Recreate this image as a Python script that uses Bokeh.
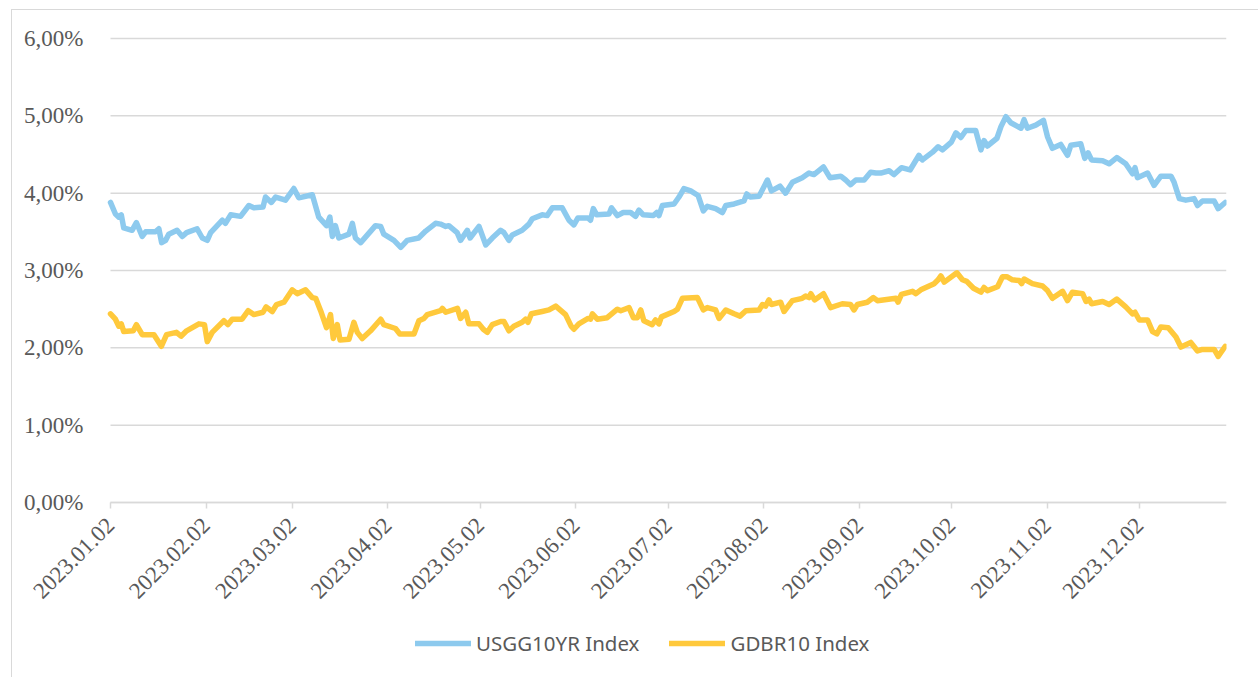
from datetime import datetime, timedelta
from bokeh.plotting import figure
from bokeh.models import (FixedTicker, DatetimeTickFormatter, Range1d, Legend, LegendItem)
from bokeh.embed import file_html
from bokeh.resources import INLINE
import math

BASE = datetime(2023, 1, 2)

us_days = [0, 1.6, 2.7, 3.5, 4.3, 7, 8.4, 10.3, 11.4, 14.6, 15.7, 16.6, 17.9, 18.9, 21.6, 23.3, 24.7,
           28.1, 29.8, 31.4, 32.5, 36.3, 37.3, 39, 42.2, 44.9, 46.5, 49.5, 50.3, 52.2, 53.6, 56.8, 59.5,
           61.1, 65.5, 67.6, 70.1, 71.2, 72, 73, 74.1, 77.4, 78.5, 79.5, 81.2, 86, 87.7, 88.7, 92, 94.2,
           96.3, 100, 102.3, 105.5, 107.1, 108.8, 109.8, 112.5, 113.6, 115.8, 116.7, 119.6, 121.8, 123.9,
           126.6, 127.7, 129.3, 130.4, 133.6, 135.8, 136.9, 140.1, 141.7, 143.4, 146.6, 148.8, 150.4,
           151.7, 155, 155.8, 156.7, 157.8, 161.8, 162.6, 164.5, 166.4, 168.8, 170.4, 171.5, 172.9,
           176.2, 177.3, 178, 179.1, 182.9, 184.5, 186.1, 188.3, 190.7, 192.4, 193.7, 196.4, 198.6,
           199.7, 202.4, 205.6, 206.5, 207.6, 210.5, 213.2, 214.5, 217.3, 219.1, 221.3, 224.5, 226.7,
           228.3, 231.4, 233.5, 237, 238.6, 240.2, 241.9, 244.6, 246.7, 248.4, 250, 252.7, 254.3, 256.7,
           259.5, 262.4, 263.5, 266.8, 268.6, 270, 272.9, 274.4, 276, 277.6, 280.8, 282.5, 283.5, 284.6,
           287.7, 289, 290.6, 292.2, 295.5, 296.5, 297.6, 300.3, 302.8, 304.1, 305.7, 308.4, 310.6,
           311.7, 314.9, 316.2, 317.3, 318.4, 322, 324.1, 326.6, 329.5, 331.7, 332.5, 333.3, 336.6,
           338.7, 340.9, 344.2, 345.2, 346.9, 349, 351.7, 352.8, 354.4, 358.2, 359.5, 361.8]
us_vals = [3.88, 3.73, 3.69, 3.72, 3.55, 3.52, 3.62, 3.44, 3.50, 3.50, 3.54, 3.36, 3.39, 3.47, 3.52, 3.44, 3.49,
           3.54, 3.42, 3.39, 3.49, 3.65, 3.61, 3.72, 3.70, 3.84, 3.81, 3.82, 3.95, 3.88, 3.95, 3.91, 4.06,
           3.94, 3.98, 3.69, 3.58, 3.69, 3.44, 3.58, 3.42, 3.47, 3.61, 3.42, 3.36, 3.58, 3.57, 3.47, 3.39, 3.30,
           3.39, 3.42, 3.51, 3.61, 3.60, 3.57, 3.58, 3.49, 3.39, 3.52, 3.42, 3.57, 3.33, 3.42,
           3.52, 3.49, 3.39, 3.46, 3.52, 3.60, 3.67, 3.72, 3.71, 3.81, 3.81, 3.65, 3.59,
           3.68, 3.68, 3.65, 3.80, 3.72, 3.73, 3.81, 3.71, 3.75, 3.75, 3.70, 3.78, 3.72,
           3.71, 3.75, 3.71, 3.84, 3.86, 3.95, 4.06, 4.03, 3.97, 3.77, 3.83, 3.80, 3.75,
           3.84, 3.86, 3.90, 3.99, 3.95, 3.96, 4.17, 4.03, 4.09, 4.00, 4.14, 4.20, 4.26,
           4.24, 4.34, 4.20, 4.22, 4.17, 4.11, 4.17, 4.17, 4.27, 4.26, 4.26, 4.29, 4.24, 4.33,
           4.30, 4.49, 4.43, 4.53, 4.60, 4.56, 4.66, 4.78, 4.72, 4.81, 4.81, 4.56, 4.68, 4.61,
           4.71, 4.86, 4.99, 4.91, 4.84, 4.95, 4.84, 4.88, 4.94, 4.73, 4.58, 4.63, 4.49,
           4.62, 4.64, 4.45, 4.52, 4.43, 4.42, 4.38, 4.46, 4.38, 4.25, 4.33, 4.20, 4.26,
           4.10, 4.22, 4.22, 4.14, 3.93, 3.91, 3.93, 3.84, 3.90, 3.90, 3.80, 3.88]

de_days = [0, 1.6, 2.7, 3.5, 4.3, 7.4, 8.4, 10.3, 14.1, 16.5, 18.2, 21.4, 22.9, 24.7, 28.7, 30.5, 31.4, 33,
           36.8, 38.1, 39.5, 42.7, 44.7, 46.5, 49.5, 50.5, 52.5, 53.9, 56.3, 59, 60.6, 63.3, 65.5, 66.6,
           68.2, 70.1, 71.4, 72.3, 73.6, 74.5, 77.4, 79, 80.1, 81.7, 84.4, 87.7, 88.7, 92.5, 93.9, 98.5,
           100.1, 101.7, 102.8, 107.1, 107.7, 108.8, 112.6, 113.6, 115.3, 116.3, 119.6, 121, 122.3, 123.9,
           126.6, 127.7, 129.3, 130.9, 133.6, 134.7, 135.5, 136.6, 140.1, 142.3, 144.5, 147.7, 149.5,
           150.4, 152, 155, 155.8, 156.4, 158, 161.2, 164.5, 165.6, 168.3, 169.7, 171, 172.1, 173.1,
           175.8, 176.9, 178, 178.8, 182.9, 184, 185.6, 190.5, 192.4, 193.7, 196.4, 197.5, 199.7, 202.4,
           204.3, 206.2, 210.5, 211.6, 212.6, 213.7, 214.5, 217.5, 218.6, 221.3, 224.5, 225.6, 226.7,
           227.3, 228.5, 231.4, 233.7, 237.5, 240.2, 241.3, 242.4, 245.6, 247.6, 248.9, 254.9, 255.6,
           256.7, 260.3, 261.4, 263, 267.3, 268.6, 269.5, 270.6, 274.7, 276.5, 277.9, 280.1, 282.5,
           283.5, 284.6, 287.9, 289.5, 290.9, 292.7, 294.9, 295.7, 296.5, 299.2, 302.5, 304.1, 305.7,
           309, 310.6, 312.2, 315.5, 316.6, 317.6, 318.4, 322, 324.1, 326.6, 329.5, 331.7, 332.5, 333.9,
           336.6, 338.2, 339.6, 340.9, 343.3, 345.8, 347.4, 350.6, 352.8, 354.4, 358.2, 359.5, 361.8]
de_vals = [2.44, 2.37, 2.28, 2.31, 2.21, 2.22, 2.30, 2.17, 2.17, 2.02, 2.17, 2.20, 2.15, 2.22, 2.31, 2.30, 2.08, 2.20,
           2.35, 2.30, 2.37, 2.37, 2.48, 2.43, 2.46, 2.53, 2.47, 2.56, 2.59, 2.75, 2.70, 2.75, 2.65, 2.64,
           2.48, 2.26, 2.43, 2.12, 2.30, 2.10, 2.11, 2.33, 2.20, 2.12, 2.22, 2.37, 2.30, 2.25, 2.18, 2.18,
           2.35, 2.38, 2.43, 2.48, 2.51, 2.46, 2.51, 2.38, 2.46, 2.31, 2.31, 2.24, 2.20, 2.30,
           2.34, 2.34, 2.22, 2.28, 2.33, 2.37, 2.33, 2.44, 2.47, 2.49, 2.54, 2.43, 2.28,
           2.24, 2.31, 2.38, 2.37, 2.44, 2.37, 2.39, 2.50, 2.48, 2.52, 2.39, 2.39, 2.49, 2.35,
           2.30, 2.36, 2.31, 2.40, 2.47, 2.50, 2.64, 2.65, 2.49, 2.52, 2.49, 2.38, 2.49, 2.44,
           2.41, 2.48, 2.49, 2.56, 2.54, 2.62, 2.56, 2.59, 2.47, 2.61, 2.64, 2.67, 2.65,
           2.70, 2.62, 2.70, 2.52, 2.57, 2.56, 2.49, 2.56, 2.59, 2.65, 2.61, 2.64, 2.59,
           2.69, 2.73, 2.70, 2.75, 2.83, 2.88, 2.93, 2.85, 2.97, 2.88, 2.86, 2.77, 2.72,
           2.78, 2.74, 2.79, 2.92, 2.92, 2.88, 2.87, 2.83, 2.89, 2.83, 2.80, 2.74, 2.64,
           2.73, 2.61, 2.72, 2.70, 2.60, 2.63, 2.57, 2.60, 2.56, 2.63, 2.53, 2.44, 2.46, 2.36,
           2.36, 2.21, 2.18, 2.27, 2.26, 2.14, 2.01, 2.07, 1.96, 1.98, 1.98, 1.89, 2.02]

series_names = ["USGG10YR Index", "GDBR10 Index"]
series_colors = ["#8DCAEE", "#FFC93C"]
tick_dates = ["2023-01-02", "2023-02-02", "2023-03-02", "2023-04-02", "2023-05-02", "2023-06-02",
              "2023-07-02", "2023-08-02", "2023-09-02", "2023-10-02", "2023-11-02", "2023-12-02"]
y_ticks = [0, 1, 2, 3, 4, 5, 6]
y_labels = ["0,00%", "1,00%", "2,00%", "3,00%", "4,00%", "5,00%", "6,00%"]

EPOCH = datetime(1970, 1, 1)
def ms(d):
    return (d - EPOCH).total_seconds() * 1000.0

END = BASE + timedelta(days=362.2)
us_x = [BASE + timedelta(days=d) for d in us_days]
de_x = [BASE + timedelta(days=d) for d in de_days]

# canvas starts at page x=12, y=10; frame spans x 12..1226 and y 12..670
# data area: Jan 2 at x=110, END at x=1226; 6% at y=38, 0% at y=502
px_per_day = (1226 - 110) / 362.2
x_start = BASE - timedelta(days=(110 - 12) / px_per_day)
px_per_unit = (502 - 38) / 6.0
y_bottom = -(670 - 502) / px_per_unit
y_top = 6 + (38 - 12) / px_per_unit

p = figure(width=1247, height=668, x_axis_type="datetime", output_backend="svg",
           toolbar_location=None, min_border_left=0, min_border_right=33,
           min_border_top=2, min_border_bottom=8,
           x_range=Range1d(ms(x_start), ms(END)),
           y_range=Range1d(y_bottom, y_top))
p.styles = {"border-left": "1px solid #d9d9d9", "border-top": "1px solid #d9d9d9",
            "margin-left": "11px", "margin-top": "9px"}
p.outline_line_color = None
p.background_fill_color = "white"
p.border_fill_color = "white"

# horizontal gridlines, limited to the data area
p.xgrid.grid_line_color = None
p.ygrid.grid_line_color = None
n = len(y_ticks)
p.segment(x0=[BASE] * n, y0=y_ticks, x1=[END] * n, y1=y_ticks,
          line_color="#d9d9d9", line_width=1.5)

r_us = p.line(us_x, us_vals, line_color=series_colors[0], line_width=5.5, line_join="round", line_cap="round")
r_de = p.line(de_x, de_vals, line_color=series_colors[1], line_width=5.5, line_join="round", line_cap="round")

# y axis, pinned at the first date
p.yaxis.fixed_location = ms(BASE)
p.yaxis.ticker = FixedTicker(ticks=y_ticks)
p.yaxis.bounds = (0, 6)
p.yaxis.major_label_overrides = {t: l for t, l in zip(y_ticks, y_labels)}
p.yaxis.axis_line_color = None
p.yaxis.major_tick_line_color = None
p.yaxis.minor_tick_line_color = None
p.yaxis.major_label_standoff = 21
p.yaxis.major_label_text_font = "Liberation Serif"
p.yaxis.major_label_text_font_size = "23px"
p.yaxis.major_label_text_color = "#595959"

# x axis, pinned at 0 %
p.xaxis.fixed_location = 0
p.xaxis.bounds = (ms(BASE), ms(END))
p.xaxis.ticker = FixedTicker(ticks=[ms(datetime.strptime(d, "%Y-%m-%d")) for d in tick_dates])
fmt = "%Y.%m.%d"
p.xaxis.formatter = DatetimeTickFormatter(milliseconds=fmt, seconds=fmt, minsec=fmt, minutes=fmt,
                                          hourmin=fmt, hours=fmt, days=fmt, months=fmt, years=fmt)
p.xaxis.major_label_orientation = math.pi / 4
p.xaxis.axis_line_color = "#d9d9d9"
p.xaxis.axis_line_width = 1.5
p.xaxis.major_tick_line_color = "#d9d9d9"
p.xaxis.major_tick_line_width = 1.5
p.xaxis.major_tick_in = 0
p.xaxis.major_tick_out = 6
p.xaxis.minor_tick_line_color = None
p.xaxis.major_label_standoff = 13
p.xaxis.major_label_text_font = "Liberation Serif"
p.xaxis.major_label_text_font_size = "23px"
p.xaxis.major_label_text_color = "#595959"

legend = Legend(items=[LegendItem(label=series_names[0], renderers=[r_us]),
                       LegendItem(label=series_names[1], renderers=[r_de])],
                orientation="horizontal", location=(403, 13),
                glyph_width=56, glyph_height=22, label_standoff=5, spacing=30,
                padding=0, margin=0, border_line_alpha=0, background_fill_alpha=0,
                label_text_font="Noto Sans", label_text_font_size="20.5px",
                label_text_color="#595959")
p.add_layout(legend, "center")

open("out.html", "w").write(file_html(p, INLINE))
